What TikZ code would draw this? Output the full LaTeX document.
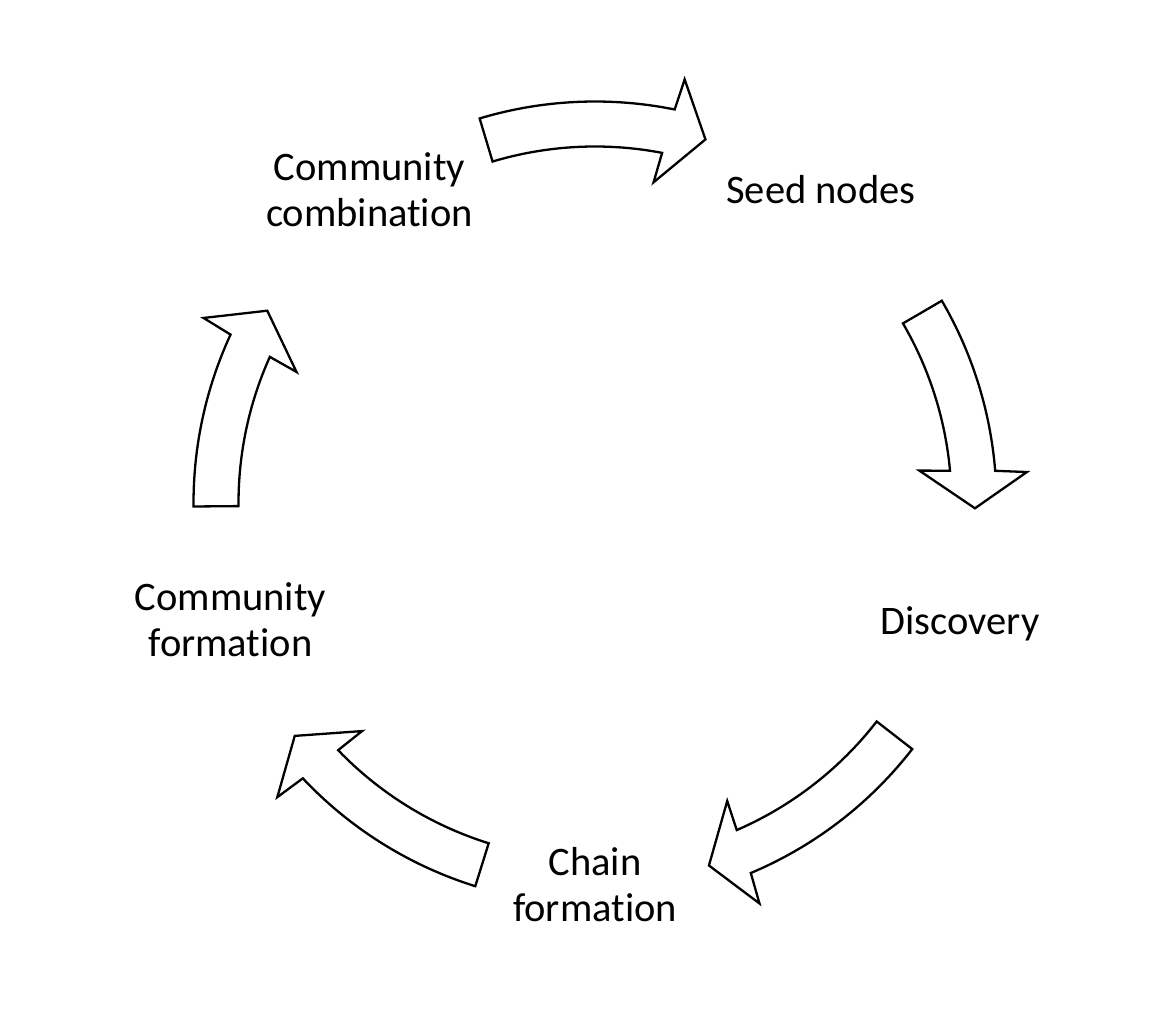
\documentclass[tikz,border=0pt]{standalone}
\usepackage{fontspec}
\setmainfont{Carlito}[Ligatures=NoCommon]
\usetikzlibrary{calc}
\tikzset{
  arrowshape/.style={draw=black, fill=white, line width=2.3pt, line join=miter},
  lbl/.style={inner sep=0pt, align=center, anchor=base, font=\fontsize{40.5}{46}\selectfont}
}
\newcommand{\arcarrow}[3]{%
  \pgfmathsetmacro{\aT}{#1}%
  \pgfmathsetmacro{\aSo}{#2-0.3}%
  \pgfmathsetmacro{\aSi}{#2+0.3}%
  \pgfmathsetmacro{\aHo}{#2-0.8}%
  \pgfmathsetmacro{\aHi}{#2+0.8}%
  \pgfmathsetmacro{\aP}{#3}%
  \draw[arrowshape] ($(c)+(\aT:401.5)$) arc[start angle=\aT, end angle=\aSo, radius=401.5pt]
    -- ($(c)+(\aHo:433)$) -- ($(c)+(\aP:380)$) -- ($(c)+(\aHi:326)$)
    -- ($(c)+(\aSi:356.5)$) arc[start angle=\aSi, end angle=\aT, radius=356.5pt] -- cycle;%
}
\begin{document}
\begin{tikzpicture}[x=1pt,y=1pt]
\useasboundingbox (0,0) rectangle (1176,1036);
\coordinate (c) at (595,533);
\arcarrow{106.7}{78.85}{73.1}
\arcarrow{30.25}{4.9}{-0.8}
\arcarrow{-37.8}{-66.87}{-72.55}
\arcarrow{-107.35}{-136.4}{-142.2}
\arcarrow{180.5}{155.5}{149.6}
\node[lbl] (seed) at (821,832) {Seed nodes};
\node[lbl] (disc) at (960,401) {Discovery};
\node[lbl] (chain) at (595,114) {Chain\\formation};
\node[lbl] (cform) at (230.5,379) {Community\\formation};
\node[lbl] (ccomb) at (369.5,809) {Community\\combination};
\end{tikzpicture}
\end{document}
